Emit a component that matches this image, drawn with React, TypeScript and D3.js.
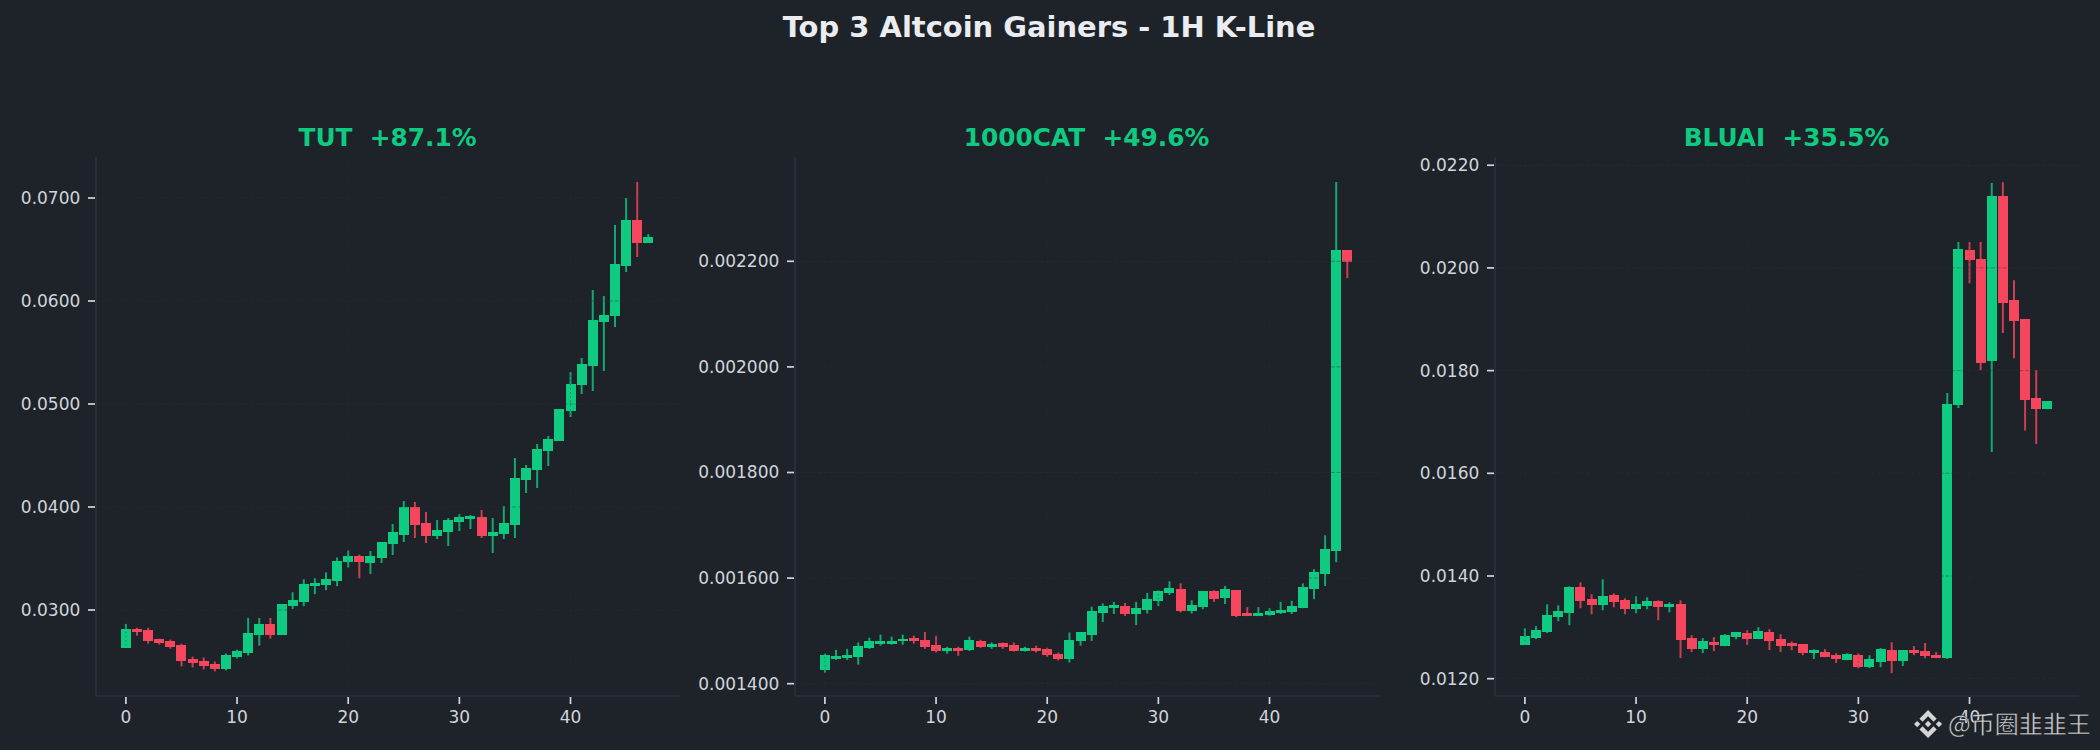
import React from "react";
import * as d3 from "d3";

const GREEN = "#0ecb81";
const RED = "#f6465d";
const BG = "#1e2329";
const GRID = "#2b3139";
const TEXT = "#d1d4dc";

const tutOpen = [.02635,.02817,.02808,.02721,.02702,.02664,.02529,.025,.02471,.02423,.02548,.02587,.0276,.02865,.0276,.03038,.03077,.03231,.0324,.03279,.03462,.03529,.03456,.03505,.03641,.03728,.04,.03845,.03718,.03757,.03854,.03884,.03903,.03718,.03738,.03825,.04262,.04359,.04544,.04641,.04932,.05184,.05369,.05796,.05854,.0634,.06786,.06563];
const tutClose = [.02817,.02789,.02702,.02683,.02644,.025,.02481,.02452,.02423,.02567,.02606,.02779,.02865,.0276,.03058,.03096,.0325,.0326,.03298,.03471,.03529,.03462,.03524,.0366,.03757,.04,.03825,.03718,.03777,.03874,.03903,.03913,.03718,.03757,.03845,.04282,.04379,.04563,.0466,.04951,.05194,.05388,.05815,.05864,.06359,.06786,.06563,.06621];
const tutHigh = [.02865,.02827,.02827,.02721,.02712,.02673,.02548,.02539,.025,.02577,.02615,.02923,.02923,.02923,.03058,.03173,.03298,.03308,.03365,.0351,.03577,.03538,.03573,.0366,.03835,.04058,.04049,.03951,.03874,.03893,.03932,.03922,.03971,.03893,.0401,.04476,.04408,.04612,.04689,.04951,.05311,.05447,.06107,.06048,.06738,.07,.07155,.0665];
const tutLow = [.02635,.0275,.02673,.02664,.02625,.02452,.02442,.02423,.02404,.02414,.02529,.02558,.02654,.02721,.0276,.0301,.03038,.03154,.03192,.03231,.03413,.03308,.0335,.03456,.03534,.0366,.03699,.0365,.03689,.03621,.03767,.03786,.03699,.03553,.03689,.03699,.04136,.04184,.04398,.04641,.04874,.05097,.05126,.0532,.05747,.06281,.06427,.06563];

const catOpen = [.001425,.001447,.001449,.001451,.001468,.001476,.001476,.00148,.001487,.001483,.001474,.001461,.001468,.001464,.001481,.00147,.001478,.001474,.001461,.001468,.001466,.001457,.001447,.001481,.001493,.001534,.001543,.001547,.001532,.001539,.001557,.001571,.001579,.001537,.001545,.001575,.001562,.001577,.001533,.001528,.00153,.001533,.001535,.001543,.001579,.001608,.001651,.002221];
const catClose = [.001455,.001453,.001455,.001472,.00148,.001481,.001481,.001485,.001481,.00147,.001461,.001468,.001462,.001483,.00147,.001476,.00147,.001462,.001468,.001462,.001455,.001447,.001483,.001497,.001538,.001548,.001549,.001532,.001543,.00156,.001575,.001581,.001537,.001549,.001575,.00156,.001579,.001528,.001528,.001533,.001537,.001539,.001547,.001583,.001612,.001655,.002221,.002199];
const catHigh = [.001457,.001464,.001466,.001478,.001487,.001493,.001489,.001493,.001491,.001498,.001491,.00147,.00147,.001489,.001483,.001478,.001478,.001478,.00147,.001472,.001468,.001459,.001497,.001498,.001546,.001552,.001555,.001553,.001555,.001572,.001577,.001594,.00159,.001558,.001575,.001577,.001585,.001577,.001545,.001545,.001543,.001555,.001557,.00159,.001617,.001681,.00235,.002221];
const catLow = [.001421,.001445,.001445,.001436,.001466,.001472,.001474,.001474,.001476,.001466,.001459,.001457,.001453,.001462,.001468,.001466,.001466,.001461,.001461,.001459,.001451,.001444,.00144,.001472,.001481,.001517,.001532,.001528,.001511,.001533,.001547,.001568,.001535,.001533,.001541,.001555,.001551,.001526,.001528,.001528,.001528,.001532,.001532,.001543,.00156,.001585,.00163,.002168];

const bluOpen = [.012654,.01279,.012906,.013197,.013275,.01378,.013547,.01343,.013624,.013527,.013353,.013411,.013508,.013391,.01345,.01279,.012576,.012712,.012634,.012809,.012887,.01277,.012906,.01277,.012696,.012673,.012495,.012517,.012457,.01236,.012457,.012226,.012323,.012554,.012345,.012554,.012539,.012457,.012398,.017331,.02035,.020171,.018189,.021401,.019374,.019,.017466,.017249];
const bluClose = [.012828,.012945,.013236,.013314,.01378,.013508,.01343,.013605,.013489,.013353,.01345,.013508,.013391,.01345,.012751,.012576,.012731,.012654,.012848,.012906,.01277,.012925,.012731,.012634,.012636,.012495,.012554,.01242,.012383,.01248,.012226,.012383,.012576,.012345,.012554,.012495,.012442,.012398,.017346,.020365,.020156,.018144,.021401,.019314,.018964,.017428,.017249,.017406];
const bluHigh = [.012984,.013023,.01345,.01343,.013799,.013877,.013644,.013935,.013663,.013566,.013605,.013586,.013527,.013489,.013527,.012848,.01279,.012809,.012867,.012906,.012945,.013003,.012964,.012867,.012726,.012673,.012576,.012576,.012495,.012495,.012495,.012457,.012599,.012711,.012554,.012636,.012696,.012517,.017563,.020506,.020506,.020506,.021654,.021669,.019761,.019,.01801,.017406];
const bluLow = [.012654,.01277,.012887,.01312,.013042,.013372,.013256,.013333,.013391,.013256,.013275,.013353,.013139,.013294,.012401,.012518,.012498,.012537,.012634,.01277,.012654,.01277,.012557,.012518,.012554,.012457,.012383,.01242,.012308,.01236,.012204,.012204,.012226,.012107,.012249,.012457,.012398,.012398,.012383,.017272,.019702,.01801,.016415,.018733,.018241,.016832,.016571,.017249];

const xTicks = [0, 10, 20, 30, 40];
const xDomain = [-2.69, 49.85];

const tutTicks = [0.03, 0.04, 0.05, 0.06, 0.07];
const catTicks = [0.0014, 0.0016, 0.0018, 0.002, 0.0022];
const bluTicks = [0.012, 0.014, 0.016, 0.018, 0.02, 0.022];

const TOP = 157;
const BOTTOM = 696;
const PANEL_W = 584;
const SANS = "'DejaVu Sans', sans-serif";

const LOGO =
  "M38.73 53.2l24.59-24.58 24.6 24.6 14.3-14.31L63.32 0 24.42 38.9zM0 63.31l14.3-14.31 14.31 14.31-14.31 14.3zM38.73 73.41l24.59 24.59 24.6-24.6 14.31 14.29-38.9 38.91-38.91-38.88zM98.01 63.31l14.3-14.31 14.3 14.3-14.3 14.32zM77.83 63.3L63.32 48.78 52.59 59.51l-1.24 1.23-2.54 2.54 14.51 14.5 14.51-14.47z";

type PanelProps = {
  left: number;
  title: string;
  open: number[];
  close: number[];
  high: number[];
  low: number[];
  yDomain: number[];
  yTicks: number[];
  digits: number;
};

const Panel = ({ left, title, open, close, high, low, yDomain, yTicks, digits }: PanelProps) => {
  const x = d3.scaleLinear().domain(xDomain).range([left, left + PANEL_W]);
  const y = d3.scaleLinear().domain(yDomain).range([BOTTOM, TOP]);
  const fmt = d3.format(`.${digits}f`);
  const bw = x(0.9) - x(0);

  return (
    <g>
      <text
        x={left + PANEL_W / 2 - 0.5}
        y={146}
        textAnchor="middle"
        fontSize={24.8}
        fontWeight="bold"
        fill={GREEN}
        style={{ whiteSpace: "pre" }}
      >
        {title}
      </text>

      {open.map((o, i) => {
        const up = close[i] >= o;
        const c = up ? GREEN : RED;
        return (
          <g key={i}>
            <line x1={x(i)} x2={x(i)} y1={y(high[i])} y2={y(low[i])} stroke={c} strokeWidth={2} strokeOpacity={0.8} />
            <rect
              x={x(i) - bw / 2}
              width={bw}
              y={y(Math.max(o, close[i]))}
              height={Math.max(1, Math.abs(y(o) - y(close[i])))}
              fill={c}
              shapeRendering="crispEdges"
            />
          </g>
        );
      })}

      {xTicks.map((t) => (
        <line key={t} x1={x(t)} x2={x(t)} y1={TOP} y2={BOTTOM} stroke={GRID} strokeOpacity={0.4} strokeWidth={1} strokeDasharray="1.5 2.7" />
      ))}
      {yTicks.map((t) => (
        <line key={t} x1={left} x2={left + PANEL_W} y1={y(t)} y2={y(t)} stroke={GRID} strokeOpacity={0.4} strokeWidth={1} strokeDasharray="4 1.7" />
      ))}

      <line x1={left} x2={left} y1={TOP} y2={BOTTOM} stroke={GRID} strokeWidth={1.7} />
      <line x1={left} x2={left + PANEL_W} y1={BOTTOM} y2={BOTTOM} stroke={GRID} strokeWidth={1.7} />

      {xTicks.map((t) => (
        <g key={t}>
          <line x1={x(t)} x2={x(t)} y1={BOTTOM + 1} y2={BOTTOM + 8} stroke={TEXT} strokeWidth={1.7} />
          <text x={x(t)} y={BOTTOM + 27} textAnchor="middle" fontSize={17} fill={TEXT}>
            {t}
          </text>
        </g>
      ))}
      {yTicks.map((t) => (
        <g key={t}>
          <line x1={left - 8} x2={left - 1} y1={y(t)} y2={y(t)} stroke={TEXT} strokeWidth={1.7} />
          <text x={left - 15.7} y={y(t) + 6} textAnchor="end" fontSize={17} fill={TEXT}>
            {fmt(t)}
          </text>
        </g>
      ))}
    </g>
  );
};

const App = () => {
  return (
    <svg
      width={2100}
      height={750}
      fontFamily={SANS}
      style={{ position: "absolute", left: 0, top: 0, display: "block", background: BG }}
    >
      <rect width={2100} height={750} fill={BG} />
      <text x={1049} y={37} textAnchor="middle" fontSize={28.95} fontWeight="bold" fill="#eaecef">
        Top 3 Altcoin Gainers - 1H K-Line
      </text>

      <Panel left={96} title="TUT  +87.1%" open={tutOpen} close={tutClose} high={tutHigh} low={tutLow} yDomain={[0.02165, 0.07398]} yTicks={tutTicks} digits={4} />
      <Panel left={795} title="1000CAT  +49.6%" open={catOpen} close={catClose} high={catHigh} low={catLow} yDomain={[0.0013767, 0.0023975]} yTicks={catTicks} digits={6} />
      <Panel left={1495} title="BLUAI  +35.5%" open={bluOpen} close={bluClose} high={bluHigh} low={bluLow} yDomain={[0.011663, 0.02216]} yTicks={bluTicks} digits={4} />

      <g transform="translate(1914,710) scale(0.222)" fill="#d4d4d4">
        <path d={LOGO} />
      </g>
      <text
        x={1948}
        y={733}
        fontFamily="'Noto Sans CJK SC', sans-serif"
        fontSize={24}
        fill="#d4d4d4"
        stroke="#14171c"
        strokeWidth={0.4}
      >
        @币圈韭韭王
      </text>
    </svg>
  );
};

export default App;
